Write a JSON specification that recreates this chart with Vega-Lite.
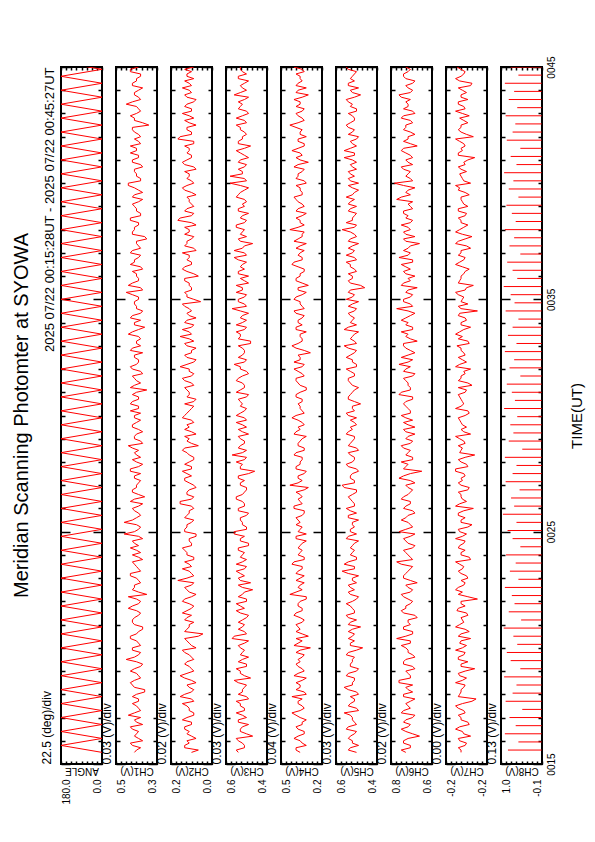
{
"$schema":"https://vega.github.io/schema/vega-lite/v6.json",
"background":"white",
"padding":{"left":12,"top":54,"right":5,"bottom":5},
"title":{"text":"Meridian Scanning Photomter at SYOWA","orient":"left","anchor":"middle","frame":"group","fontSize":20,"font":"Liberation Sans","fontWeight":"normal","color":"#000","offset":7},
"bounds":"flush",
"spacing":14,
"config":{"view":{"stroke":"#000","strokeWidth":2},"axis":{"labelFont":"Liberation Sans","titleFont":"Liberation Sans","labelColor":"#000","titleColor":"#000","tickColor":"#000","tickWidth":1.5,"domain":false,"grid":false,"titleFontWeight":"normal","labelFontSize":10,"titleFontSize":12}},
"datasets":{
"ch":[
{"t":15.5,"c1":0.41,"c2":0.11,"c3":0.54,"c4":0.36,"c5":0.50,"c6":0.735,"c7":-0.196},
{"t":15.7,"c1":0.38,"c2":0.14,"c3":0.51,"c4":0.39,"c5":0.53,"c6":0.715,"c7":-0.194},
{"t":15.9,"c1":0.43,"c2":0.12,"c3":0.52,"c4":0.345,"c5":0.52,"c6":0.745,"c7":-0.2},
{"t":16.1,"c1":0.39,"c2":0.09,"c3":0.55,"c4":0.405,"c5":0.54,"c6":0.725,"c7":-0.194},
{"t":16.3,"c1":0.40,"c2":0.13,"c3":0.50,"c4":0.33,"c5":0.51,"c6":0.705,"c7":-0.198},
{"t":16.5,"c1":0.42,"c2":0.14,"c3":0.53,"c4":0.375,"c5":0.55,"c6":0.755,"c7":-0.192},
{"t":16.7,"c1":0.37,"c2":0.11,"c3":0.49,"c4":0.345,"c5":0.50,"c6":0.715,"c7":-0.202},
{"t":16.9,"c1":0.41,"c2":0.15,"c3":0.54,"c4":0.315,"c5":0.52,"c6":0.735,"c7":-0.196},
{"t":17.1,"c1":0.44,"c2":0.10,"c3":0.52,"c4":0.39,"c5":0.53,"c6":0.695,"c7":-0.194},
{"t":17.3,"c1":0.38,"c2":0.12,"c3":0.51,"c4":0.36,"c5":0.49,"c6":0.745,"c7":-0.198},
{"t":17.5,"c1":0.40,"c2":0.13,"c3":0.53,"c4":0.345,"c5":0.54,"c6":0.725,"c7":-0.192},
{"t":17.7,"c1":0.39,"c2":0.10,"c3":0.55,"c4":0.375,"c5":0.51,"c6":0.715,"c7":-0.204},
{"t":17.9,"c1":0.42,"c2":0.16,"c3":0.50,"c4":0.42,"c5":0.53,"c6":0.745,"c7":-0.194},
{"t":18.1,"c1":0.36,"c2":0.11,"c3":0.52,"c4":0.33,"c5":0.50,"c6":0.705,"c7":-0.196},
{"t":18.3,"c1":0.41,"c2":0.12,"c3":0.51,"c4":0.36,"c5":0.56,"c6":0.735,"c7":-0.198},
{"t":18.5,"c1":0.43,"c2":0.09,"c3":0.54,"c4":0.39,"c5":0.52,"c6":0.765,"c7":-0.192},
{"t":18.7,"c1":0.38,"c2":0.14,"c3":0.48,"c4":0.315,"c5":0.51,"c6":0.715,"c7":-0.2},
{"t":18.9,"c1":0.40,"c2":0.13,"c3":0.53,"c4":0.375,"c5":0.54,"c6":0.725,"c7":-0.194},
{"t":19.1,"c1":0.41,"c2":0.11,"c3":0.55,"c4":0.345,"c5":0.49,"c6":0.695,"c7":-0.206},
{"t":19.3,"c1":0.37,"c2":0.14,"c3":0.50,"c4":0.39,"c5":0.53,"c6":0.745,"c7":-0.196},
{"t":19.5,"c1":0.45,"c2":0.10,"c3":0.52,"c4":0.375,"c5":0.52,"c6":0.735,"c7":-0.194},
{"t":19.7,"c1":0.39,"c2":0.12,"c3":0.53,"c4":0.33,"c5":0.55,"c6":0.705,"c7":-0.198},
{"t":19.9,"c1":0.42,"c2":0.15,"c3":0.51,"c4":0.36,"c5":0.50,"c6":0.725,"c7":-0.192},
{"t":20.1,"c1":0.38,"c2":0.11,"c3":0.54,"c4":0.405,"c5":0.53,"c6":0.755,"c7":-0.2},
{"t":20.3,"c1":0.40,"c2":0.13,"c3":0.49,"c4":0.345,"c5":0.51,"c6":0.715,"c7":-0.196},
{"t":20.5,"c1":0.43,"c2":0.08,"c3":0.56,"c4":0.30,"c5":0.52,"c6":0.735,"c7":-0.194},
{"t":20.7,"c1":0.39,"c2":0.14,"c3":0.51,"c4":0.39,"c5":0.54,"c6":0.705,"c7":-0.202},
{"t":20.9,"c1":0.37,"c2":0.12,"c3":0.52,"c4":0.375,"c5":0.48,"c6":0.745,"c7":-0.192},
{"t":21.1,"c1":0.42,"c2":0.10,"c3":0.54,"c4":0.345,"c5":0.53,"c6":0.725,"c7":-0.198},
{"t":21.3,"c1":0.41,"c2":0.13,"c3":0.50,"c4":0.36,"c5":0.54,"c6":0.685,"c7":-0.196},
{"t":21.5,"c1":0.38,"c2":0.15,"c3":0.53,"c4":0.39,"c5":0.51,"c6":0.745,"c7":-0.2},
{"t":21.7,"c1":0.44,"c2":0.11,"c3":0.51,"c4":0.345,"c5":0.52,"c6":0.735,"c7":-0.194},
{"t":21.9,"c1":0.39,"c2":0.12,"c3":0.55,"c4":0.375,"c5":0.55,"c6":0.715,"c7":-0.196},
{"t":22.1,"c1":0.40,"c2":0.14,"c3":0.50,"c4":0.315,"c5":0.50,"c6":0.725,"c7":-0.208},
{"t":22.3,"c1":0.35,"c2":0.09,"c3":0.52,"c4":0.435,"c5":0.53,"c6":0.755,"c7":-0.194},
{"t":22.5,"c1":0.42,"c2":0.13,"c3":0.47,"c4":0.345,"c5":0.51,"c6":0.705,"c7":-0.192},
{"t":22.7,"c1":0.41,"c2":0.11,"c3":0.54,"c4":0.36,"c5":0.54,"c6":0.735,"c7":-0.198},
{"t":22.9,"c1":0.39,"c2":0.17,"c3":0.53,"c4":0.39,"c5":0.52,"c6":0.715,"c7":-0.196},
{"t":23.1,"c1":0.43,"c2":0.10,"c3":0.51,"c4":0.33,"c5":0.49,"c6":0.745,"c7":-0.2},
{"t":23.3,"c1":0.38,"c2":0.12,"c3":0.55,"c4":0.375,"c5":0.57,"c6":0.725,"c7":-0.194},
{"t":23.5,"c1":0.40,"c2":0.11,"c3":0.50,"c4":0.345,"c5":0.51,"c6":0.705,"c7":-0.198},
{"t":23.7,"c1":0.42,"c2":0.14,"c3":0.52,"c4":0.405,"c5":0.54,"c6":0.775,"c7":-0.192},
{"t":23.9,"c1":0.39,"c2":0.10,"c3":0.53,"c4":0.33,"c5":0.50,"c6":0.715,"c7":-0.202},
{"t":24.1,"c1":0.38,"c2":0.13,"c3":0.51,"c4":0.36,"c5":0.52,"c6":0.735,"c7":-0.196},
{"t":24.3,"c1":0.43,"c2":0.15,"c3":0.54,"c4":0.375,"c5":0.53,"c6":0.705,"c7":-0.194},
{"t":24.5,"c1":0.41,"c2":0.11,"c3":0.49,"c4":0.345,"c5":0.51,"c6":0.725,"c7":-0.198},
{"t":24.7,"c1":0.37,"c2":0.12,"c3":0.53,"c4":0.39,"c5":0.55,"c6":0.745,"c7":-0.192},
{"t":24.9,"c1":0.46,"c2":0.09,"c3":0.56,"c4":0.315,"c5":0.50,"c6":0.695,"c7":-0.2},
{"t":25.1,"c1":0.39,"c2":0.14,"c3":0.50,"c4":0.36,"c5":0.53,"c6":0.735,"c7":-0.194},
{"t":25.3,"c1":0.40,"c2":0.13,"c3":0.52,"c4":0.39,"c5":0.52,"c6":0.715,"c7":-0.204},
{"t":25.5,"c1":0.42,"c2":0.10,"c3":0.53,"c4":0.375,"c5":0.49,"c6":0.755,"c7":-0.196},
{"t":25.7,"c1":0.38,"c2":0.13,"c3":0.50,"c4":0.345,"c5":0.54,"c6":0.725,"c7":-0.194},
{"t":25.9,"c1":0.41,"c2":0.12,"c3":0.54,"c4":0.33,"c5":0.53,"c6":0.705,"c7":-0.198},
{"t":26.1,"c1":0.39,"c2":0.11,"c3":0.51,"c4":0.405,"c5":0.51,"c6":0.735,"c7":-0.192},
{"t":26.3,"c1":0.43,"c2":0.16,"c3":0.52,"c4":0.36,"c5":0.52,"c6":0.715,"c7":-0.2},
{"t":26.5,"c1":0.36,"c2":0.10,"c3":0.55,"c4":0.345,"c5":0.54,"c6":0.745,"c7":-0.196},
{"t":26.7,"c1":0.42,"c2":0.13,"c3":0.51,"c4":0.39,"c5":0.50,"c6":0.715,"c7":-0.194},
{"t":26.9,"c1":0.40,"c2":0.09,"c3":0.50,"c4":0.30,"c5":0.56,"c6":0.725,"c7":-0.202},
{"t":27.1,"c1":0.39,"c2":0.12,"c3":0.53,"c4":0.375,"c5":0.51,"c6":0.695,"c7":-0.194},
{"t":27.3,"c1":0.41,"c2":0.14,"c3":0.54,"c4":0.375,"c5":0.53,"c6":0.765,"c7":-0.196},
{"t":27.5,"c1":0.38,"c2":0.13,"c3":0.49,"c4":0.33,"c5":0.52,"c6":0.715,"c7":-0.198},
{"t":27.7,"c1":0.43,"c2":0.11,"c3":0.53,"c4":0.39,"c5":0.50,"c6":0.745,"c7":-0.192},
{"t":27.9,"c1":0.37,"c2":0.14,"c3":0.52,"c4":0.36,"c5":0.55,"c6":0.725,"c7":-0.2},
{"t":28.1,"c1":0.42,"c2":0.10,"c3":0.51,"c4":0.345,"c5":0.51,"c6":0.705,"c7":-0.194},
{"t":28.3,"c1":0.40,"c2":0.12,"c3":0.57,"c4":0.405,"c5":0.53,"c6":0.735,"c7":-0.206},
{"t":28.5,"c1":0.39,"c2":0.15,"c3":0.50,"c4":0.33,"c5":0.49,"c6":0.715,"c7":-0.196},
{"t":28.7,"c1":0.44,"c2":0.08,"c3":0.53,"c4":0.375,"c5":0.54,"c6":0.755,"c7":-0.194},
{"t":28.9,"c1":0.38,"c2":0.13,"c3":0.51,"c4":0.36,"c5":0.52,"c6":0.705,"c7":-0.198},
{"t":29.1,"c1":0.41,"c2":0.14,"c3":0.54,"c4":0.315,"c5":0.51,"c6":0.725,"c7":-0.192},
{"t":29.3,"c1":0.37,"c2":0.11,"c3":0.52,"c4":0.39,"c5":0.54,"c6":0.735,"c7":-0.198},
{"t":29.5,"c1":0.42,"c2":0.12,"c3":0.50,"c4":0.375,"c5":0.53,"c6":0.695,"c7":-0.2},
{"t":29.7,"c1":0.40,"c2":0.10,"c3":0.55,"c4":0.345,"c5":0.51,"c6":0.745,"c7":-0.196},
{"t":29.9,"c1":0.41,"c2":0.15,"c3":0.51,"c4":0.42,"c5":0.50,"c6":0.735,"c7":-0.194},
{"t":30.1,"c1":0.38,"c2":0.13,"c3":0.53,"c4":0.33,"c5":0.55,"c6":0.715,"c7":-0.202},
{"t":30.3,"c1":0.39,"c2":0.11,"c3":0.50,"c4":0.36,"c5":0.52,"c6":0.725,"c7":-0.192},
{"t":30.5,"c1":0.43,"c2":0.14,"c3":0.52,"c4":0.375,"c5":0.48,"c6":0.745,"c7":-0.198},
{"t":30.7,"c1":0.39,"c2":0.09,"c3":0.54,"c4":0.345,"c5":0.54,"c6":0.705,"c7":-0.196},
{"t":30.9,"c1":0.42,"c2":0.12,"c3":0.49,"c4":0.39,"c5":0.53,"c6":0.765,"c7":-0.194},
{"t":31.1,"c1":0.35,"c2":0.13,"c3":0.53,"c4":0.315,"c5":0.51,"c6":0.715,"c7":-0.2},
{"t":31.3,"c1":0.41,"c2":0.10,"c3":0.51,"c4":0.36,"c5":0.52,"c6":0.725,"c7":-0.204},
{"t":31.5,"c1":0.40,"c2":0.14,"c3":0.55,"c4":0.39,"c5":0.54,"c6":0.735,"c7":-0.194},
{"t":31.7,"c1":0.42,"c2":0.11,"c3":0.52,"c4":0.33,"c5":0.51,"c6":0.705,"c7":-0.196},
{"t":31.9,"c1":0.38,"c2":0.12,"c3":0.50,"c4":0.375,"c5":0.53,"c6":0.745,"c7":-0.198},
{"t":32.1,"c1":0.43,"c2":0.16,"c3":0.53,"c4":0.345,"c5":0.50,"c6":0.715,"c7":-0.192},
{"t":32.3,"c1":0.39,"c2":0.10,"c3":0.51,"c4":0.405,"c5":0.52,"c6":0.725,"c7":-0.2},
{"t":32.5,"c1":0.41,"c2":0.13,"c3":0.54,"c4":0.36,"c5":0.55,"c6":0.755,"c7":-0.194},
{"t":32.7,"c1":0.37,"c2":0.11,"c3":0.51,"c4":0.285,"c5":0.51,"c6":0.695,"c7":-0.198},
{"t":32.9,"c1":0.42,"c2":0.09,"c3":0.52,"c4":0.39,"c5":0.54,"c6":0.735,"c7":-0.196},
{"t":33.1,"c1":0.40,"c2":0.14,"c3":0.48,"c4":0.375,"c5":0.50,"c6":0.745,"c7":-0.202},
{"t":33.3,"c1":0.38,"c2":0.12,"c3":0.54,"c4":0.345,"c5":0.53,"c6":0.715,"c7":-0.194},
{"t":33.5,"c1":0.44,"c2":0.11,"c3":0.53,"c4":0.36,"c5":0.51,"c6":0.725,"c7":-0.192},
{"t":33.7,"c1":0.39,"c2":0.15,"c3":0.51,"c4":0.39,"c5":0.56,"c6":0.705,"c7":-0.198},
{"t":33.9,"c1":0.41,"c2":0.10,"c3":0.55,"c4":0.345,"c5":0.50,"c6":0.735,"c7":-0.196},
{"t":34.1,"c1":0.38,"c2":0.13,"c3":0.50,"c4":0.375,"c5":0.52,"c6":0.755,"c7":-0.2},
{"t":34.3,"c1":0.42,"c2":0.12,"c3":0.52,"c4":0.33,"c5":0.53,"c6":0.715,"c7":-0.194},
{"t":34.5,"c1":0.37,"c2":0.11,"c3":0.53,"c4":0.405,"c5":0.51,"c6":0.725,"c7":-0.208},
{"t":34.7,"c1":0.40,"c2":0.14,"c3":0.50,"c4":0.345,"c5":0.54,"c6":0.705,"c7":-0.194},
{"t":34.9,"c1":0.41,"c2":0.07,"c3":0.54,"c4":0.36,"c5":0.49,"c6":0.745,"c7":-0.196},
{"t":35.1,"c1":0.39,"c2":0.13,"c3":0.51,"c4":0.39,"c5":0.52,"c6":0.715,"c7":-0.198},
{"t":35.3,"c1":0.45,"c2":0.14,"c3":0.55,"c4":0.315,"c5":0.54,"c6":0.735,"c7":-0.192},
{"t":35.5,"c1":0.38,"c2":0.11,"c3":0.52,"c4":0.375,"c5":0.46,"c6":0.685,"c7":-0.2},
{"t":35.7,"c1":0.42,"c2":0.12,"c3":0.49,"c4":0.345,"c5":0.53,"c6":0.745,"c7":-0.194},
{"t":35.9,"c1":0.39,"c2":0.14,"c3":0.53,"c4":0.39,"c5":0.52,"c6":0.725,"c7":-0.196},
{"t":36.1,"c1":0.40,"c2":0.10,"c3":0.54,"c4":0.36,"c5":0.54,"c6":0.735,"c7":-0.198},
{"t":36.3,"c1":0.37,"c2":0.15,"c3":0.51,"c4":0.33,"c5":0.51,"c6":0.715,"c7":-0.202},
{"t":36.5,"c1":0.43,"c2":0.11,"c3":0.52,"c4":0.42,"c5":0.53,"c6":0.755,"c7":-0.192},
{"t":36.7,"c1":0.41,"c2":0.13,"c3":0.54,"c4":0.345,"c5":0.50,"c6":0.705,"c7":-0.198},
{"t":36.9,"c1":0.38,"c2":0.12,"c3":0.50,"c4":0.375,"c5":0.55,"c6":0.725,"c7":-0.194},
{"t":37.1,"c1":0.42,"c2":0.09,"c3":0.56,"c4":0.33,"c5":0.51,"c6":0.745,"c7":-0.196},
{"t":37.3,"c1":0.39,"c2":0.14,"c3":0.51,"c4":0.36,"c5":0.52,"c6":0.715,"c7":-0.2},
{"t":37.5,"c1":0.40,"c2":0.13,"c3":0.53,"c4":0.405,"c5":0.54,"c6":0.735,"c7":-0.194},
{"t":37.7,"c1":0.36,"c2":0.10,"c3":0.50,"c4":0.345,"c5":0.50,"c6":0.695,"c7":-0.204},
{"t":37.9,"c1":0.42,"c2":0.12,"c3":0.52,"c4":0.33,"c5":0.53,"c6":0.745,"c7":-0.192},
{"t":38.1,"c1":0.41,"c2":0.14,"c3":0.55,"c4":0.375,"c5":0.51,"c6":0.725,"c7":-0.198},
{"t":38.3,"c1":0.39,"c2":0.11,"c3":0.51,"c4":0.36,"c5":0.55,"c6":0.715,"c7":-0.196},
{"t":38.5,"c1":0.43,"c2":0.16,"c3":0.53,"c4":0.39,"c5":0.52,"c6":0.735,"c7":-0.194},
{"t":38.7,"c1":0.38,"c2":0.10,"c3":0.49,"c4":0.315,"c5":0.50,"c6":0.745,"c7":-0.2},
{"t":38.9,"c1":0.40,"c2":0.13,"c3":0.54,"c4":0.375,"c5":0.53,"c6":0.705,"c7":-0.194},
{"t":39.1,"c1":0.42,"c2":0.11,"c3":0.52,"c4":0.345,"c5":0.54,"c6":0.725,"c7":-0.198},
{"t":39.3,"c1":0.37,"c2":0.12,"c3":0.51,"c4":0.39,"c5":0.51,"c6":0.775,"c7":-0.196},
{"t":39.5,"c1":0.41,"c2":0.09,"c3":0.54,"c4":0.345,"c5":0.52,"c6":0.715,"c7":-0.202},
{"t":39.7,"c1":0.39,"c2":0.14,"c3":0.51,"c4":0.36,"c5":0.49,"c6":0.725,"c7":-0.194},
{"t":39.9,"c1":0.44,"c2":0.13,"c3":0.53,"c4":0.39,"c5":0.54,"c6":0.745,"c7":-0.192},
{"t":40.1,"c1":0.38,"c2":0.11,"c3":0.50,"c4":0.33,"c5":0.53,"c6":0.705,"c7":-0.198},
{"t":40.3,"c1":0.40,"c2":0.12,"c3":0.58,"c4":0.375,"c5":0.51,"c6":0.735,"c7":-0.196},
{"t":40.5,"c1":0.41,"c2":0.14,"c3":0.52,"c4":0.345,"c5":0.54,"c6":0.715,"c7":-0.2},
{"t":40.7,"c1":0.37,"c2":0.10,"c3":0.51,"c4":0.405,"c5":0.52,"c6":0.755,"c7":-0.194},
{"t":40.9,"c1":0.42,"c2":0.15,"c3":0.54,"c4":0.30,"c5":0.50,"c6":0.725,"c7":-0.198},
{"t":41.1,"c1":0.39,"c2":0.11,"c3":0.49,"c4":0.39,"c5":0.56,"c6":0.705,"c7":-0.206},
{"t":41.3,"c1":0.43,"c2":0.13,"c3":0.53,"c4":0.36,"c5":0.51,"c6":0.735,"c7":-0.194},
{"t":41.5,"c1":0.40,"c2":0.12,"c3":0.51,"c4":0.375,"c5":0.53,"c6":0.745,"c7":-0.196},
{"t":41.7,"c1":0.38,"c2":0.10,"c3":0.54,"c4":0.33,"c5":0.52,"c6":0.715,"c7":-0.198},
{"t":41.9,"c1":0.41,"c2":0.17,"c3":0.52,"c4":0.375,"c5":0.50,"c6":0.725,"c7":-0.192},
{"t":42.1,"c1":0.39,"c2":0.11,"c3":0.50,"c4":0.36,"c5":0.54,"c6":0.695,"c7":-0.2},
{"t":42.3,"c1":0.42,"c2":0.13,"c3":0.53,"c4":0.345,"c5":0.51,"c6":0.745,"c7":-0.194},
{"t":42.5,"c1":0.34,"c2":0.09,"c3":0.55,"c4":0.435,"c5":0.55,"c6":0.735,"c7":-0.196},
{"t":42.7,"c1":0.41,"c2":0.14,"c3":0.51,"c4":0.33,"c5":0.51,"c6":0.715,"c7":-0.198},
{"t":42.9,"c1":0.43,"c2":0.12,"c3":0.52,"c4":0.375,"c5":0.52,"c6":0.745,"c7":-0.202},
{"t":43.1,"c1":0.38,"c2":0.11,"c3":0.50,"c4":0.345,"c5":0.50,"c6":0.705,"c7":-0.192},
{"t":43.3,"c1":0.40,"c2":0.14,"c3":0.53,"c4":0.39,"c5":0.53,"c6":0.725,"c7":-0.198},
{"t":43.5,"c1":0.42,"c2":0.10,"c3":0.54,"c4":0.36,"c5":0.54,"c6":0.735,"c7":-0.194},
{"t":43.7,"c1":0.39,"c2":0.13,"c3":0.49,"c4":0.345,"c5":0.51,"c6":0.755,"c7":-0.196},
{"t":43.9,"c1":0.41,"c2":0.11,"c3":0.53,"c4":0.39,"c5":0.52,"c6":0.715,"c7":-0.2},
{"t":44.1,"c1":0.37,"c2":0.15,"c3":0.52,"c4":0.315,"c5":0.49,"c6":0.725,"c7":-0.194},
{"t":44.3,"c1":0.42,"c2":0.12,"c3":0.51,"c4":0.375,"c5":0.54,"c6":0.705,"c7":-0.204},
{"t":44.5,"c1":0.40,"c2":0.10,"c3":0.54,"c4":0.36,"c5":0.53,"c6":0.735,"c7":-0.192},
{"t":44.7,"c1":0.38,"c2":0.13,"c3":0.50,"c4":0.39,"c5":0.51,"c6":0.745,"c7":-0.198},
{"t":44.9,"c1":0.43,"c2":0.14,"c3":0.53,"c4":0.345,"c5":0.54,"c6":0.715,"c7":-0.196},
{"t":45.1,"c1":0.39,"c2":0.11,"c3":0.55,"c4":0.33,"c5":0.52,"c6":0.695,"c7":-0.194},
{"t":45.3,"c1":0.41,"c2":0.12,"c3":0.51,"c4":0.375,"c5":0.50,"c6":0.735,"c7":-0.2},
{"t":15.6,"c1":0.40,"c2":0.08,"c3":0.55,"c4":0.39,"c5":0.54,"c6":0.755,"c7":-0.196},
{"t":15.8,"c1":0.42,"c2":0.14,"c3":0.51,"c4":0.315,"c5":0.49,"c6":0.715,"c7":-0.199},
{"t":16.0,"c1":0.37,"c2":0.13,"c3":0.54,"c4":0.36,"c5":0.52,"c6":0.745,"c7":-0.195},
{"t":16.2,"c1":0.41,"c2":0.11,"c3":0.47,"c4":0.375,"c5":0.53,"c6":0.675,"c7":-0.203},
{"t":16.4,"c1":0.39,"c2":0.12,"c3":0.53,"c4":0.33,"c5":0.50,"c6":0.735,"c7":-0.197},
{"t":16.6,"c1":0.43,"c2":0.14,"c3":0.52,"c4":0.39,"c5":0.54,"c6":0.725,"c7":-0.195},
{"t":16.8,"c1":0.40,"c2":0.11,"c3":0.54,"c4":0.345,"c5":0.51,"c6":0.745,"c7":-0.201},
{"t":17.0,"c1":0.38,"c2":0.13,"c3":0.50,"c4":0.36,"c5":0.52,"c6":0.705,"c7":-0.196},
{"t":17.2,"c1":0.41,"c2":0.10,"c3":0.55,"c4":0.42,"c5":0.56,"c6":0.755,"c7":-0.199},
{"t":17.4,"c1":0.39,"c2":0.12,"c3":0.51,"c4":0.33,"c5":0.50,"c6":0.715,"c7":-0.194},
{"t":17.6,"c1":0.42,"c2":0.15,"c3":0.53,"c4":0.375,"c5":0.53,"c6":0.735,"c7":-0.197},
{"t":17.8,"c1":0.39,"c2":0.11,"c3":0.49,"c4":0.345,"c5":0.51,"c6":0.695,"c7":-0.207},
{"t":18.0,"c1":0.40,"c2":0.14,"c3":0.54,"c4":0.315,"c5":0.49,"c6":0.745,"c7":-0.195},
{"t":18.2,"c1":0.36,"c2":0.10,"c3":0.52,"c4":0.39,"c5":0.54,"c6":0.725,"c7":-0.196},
{"t":18.4,"c1":0.42,"c2":0.13,"c3":0.50,"c4":0.36,"c5":0.52,"c6":0.705,"c7":-0.199},
{"t":18.6,"c1":0.41,"c2":0.11,"c3":0.56,"c4":0.345,"c5":0.51,"c6":0.765,"c7":-0.197},
{"t":18.8,"c1":0.39,"c2":0.16,"c3":0.51,"c4":0.405,"c5":0.55,"c6":0.715,"c7":-0.195},
{"t":19.0,"c1":0.43,"c2":0.10,"c3":0.53,"c4":0.33,"c5":0.50,"c6":0.735,"c7":-0.199},
{"t":19.2,"c1":0.38,"c2":0.12,"c3":0.50,"c4":0.375,"c5":0.53,"c6":0.705,"c7":-0.196},
{"t":19.4,"c1":0.40,"c2":0.13,"c3":0.54,"c4":0.36,"c5":0.52,"c6":0.745,"c7":-0.201},
{"t":19.6,"c1":0.41,"c2":0.11,"c3":0.49,"c4":0.345,"c5":0.51,"c6":0.695,"c7":-0.194},
{"t":19.8,"c1":0.38,"c2":0.14,"c3":0.52,"c4":0.39,"c5":0.54,"c6":0.725,"c7":-0.199},
{"t":20.0,"c1":0.42,"c2":0.09,"c3":0.53,"c4":0.285,"c5":0.47,"c6":0.735,"c7":-0.197},
{"t":20.2,"c1":0.39,"c2":0.12,"c3":0.51,"c4":0.375,"c5":0.53,"c6":0.715,"c7":-0.195},
{"t":20.4,"c1":0.43,"c2":0.14,"c3":0.57,"c4":0.39,"c5":0.54,"c6":0.775,"c7":-0.203},
{"t":20.6,"c1":0.40,"c2":0.06,"c3":0.50,"c4":0.345,"c5":0.51,"c6":0.705,"c7":-0.196},
{"t":20.8,"c1":0.37,"c2":0.13,"c3":0.54,"c4":0.36,"c5":0.52,"c6":0.745,"c7":-0.199},
{"t":21.0,"c1":0.41,"c2":0.12,"c3":0.51,"c4":0.39,"c5":0.54,"c6":0.715,"c7":-0.195},
{"t":21.2,"c1":0.42,"c2":0.14,"c3":0.52,"c4":0.33,"c5":0.50,"c6":0.725,"c7":-0.197},
{"t":21.4,"c1":0.39,"c2":0.11,"c3":0.49,"c4":0.405,"c5":0.55,"c6":0.695,"c7":-0.201},
{"t":21.6,"c1":0.40,"c2":0.13,"c3":0.55,"c4":0.345,"c5":0.51,"c6":0.755,"c7":-0.193},
{"t":21.8,"c1":0.42,"c2":0.10,"c3":0.53,"c4":0.375,"c5":0.53,"c6":0.735,"c7":-0.199},
{"t":22.0,"c1":0.38,"c2":0.15,"c3":0.50,"c4":0.36,"c5":0.52,"c6":0.705,"c7":-0.196},
{"t":22.2,"c1":0.44,"c2":0.11,"c3":0.54,"c4":0.315,"c5":0.49,"c6":0.745,"c7":-0.201},
{"t":22.4,"c1":0.39,"c2":0.12,"c3":0.51,"c4":0.39,"c5":0.54,"c6":0.715,"c7":-0.197},
{"t":22.6,"c1":0.41,"c2":0.14,"c3":0.52,"c4":0.375,"c5":0.53,"c6":0.725,"c7":-0.194},
{"t":22.8,"c1":0.38,"c2":0.10,"c3":0.48,"c4":0.33,"c5":0.50,"c6":0.685,"c7":-0.199},
{"t":23.0,"c1":0.40,"c2":0.13,"c3":0.54,"c4":0.36,"c5":0.52,"c6":0.745,"c7":-0.201},
{"t":23.2,"c1":0.43,"c2":0.11,"c3":0.53,"c4":0.39,"c5":0.54,"c6":0.735,"c7":-0.196},
{"t":23.4,"c1":0.39,"c2":0.15,"c3":0.51,"c4":0.345,"c5":0.51,"c6":0.715,"c7":-0.197},
{"t":23.6,"c1":0.41,"c2":0.12,"c3":0.55,"c4":0.42,"c5":0.56,"c6":0.755,"c7":-0.195},
{"t":23.8,"c1":0.37,"c2":0.10,"c3":0.50,"c4":0.33,"c5":0.50,"c6":0.705,"c7":-0.203},
{"t":24.0,"c1":0.42,"c2":0.13,"c3":0.52,"c4":0.375,"c5":0.53,"c6":0.725,"c7":-0.196},
{"t":24.2,"c1":0.40,"c2":0.14,"c3":0.54,"c4":0.345,"c5":0.51,"c6":0.745,"c7":-0.199},
{"t":24.4,"c1":0.39,"c2":0.11,"c3":0.49,"c4":0.36,"c5":0.52,"c6":0.695,"c7":-0.195},
{"t":24.6,"c1":0.42,"c2":0.12,"c3":0.53,"c4":0.315,"c5":0.49,"c6":0.735,"c7":-0.199},
{"t":24.8,"c1":0.39,"c2":0.09,"c3":0.51,"c4":0.39,"c5":0.54,"c6":0.715,"c7":-0.197},
{"t":25.0,"c1":0.41,"c2":0.14,"c3":0.56,"c4":0.375,"c5":0.53,"c6":0.765,"c7":-0.195},
{"t":25.2,"c1":0.38,"c2":0.13,"c3":0.50,"c4":0.345,"c5":0.51,"c6":0.705,"c7":-0.201},
{"t":25.4,"c1":0.46,"c2":0.11,"c3":0.52,"c4":0.36,"c5":0.52,"c6":0.725,"c7":-0.196},
{"t":25.6,"c1":0.40,"c2":0.14,"c3":0.53,"c4":0.39,"c5":0.54,"c6":0.735,"c7":-0.199},
{"t":25.8,"c1":0.39,"c2":0.12,"c3":0.49,"c4":0.33,"c5":0.50,"c6":0.695,"c7":-0.194},
{"t":26.0,"c1":0.42,"c2":0.10,"c3":0.54,"c4":0.405,"c5":0.55,"c6":0.745,"c7":-0.205},
{"t":26.2,"c1":0.37,"c2":0.16,"c3":0.51,"c4":0.345,"c5":0.51,"c6":0.715,"c7":-0.195},
{"t":26.4,"c1":0.41,"c2":0.11,"c3":0.55,"c4":0.375,"c5":0.53,"c6":0.755,"c7":-0.197},
{"t":26.6,"c1":0.39,"c2":0.13,"c3":0.52,"c4":0.36,"c5":0.52,"c6":0.725,"c7":-0.196},
{"t":26.8,"c1":0.42,"c2":0.12,"c3":0.50,"c4":0.33,"c5":0.50,"c6":0.705,"c7":-0.201},
{"t":27.0,"c1":0.40,"c2":0.10,"c3":0.53,"c4":0.435,"c5":0.57,"c6":0.735,"c7":-0.196},
{"t":27.2,"c1":0.38,"c2":0.14,"c3":0.51,"c4":0.345,"c5":0.51,"c6":0.715,"c7":-0.197},
{"t":27.4,"c1":0.41,"c2":0.11,"c3":0.54,"c4":0.375,"c5":0.53,"c6":0.745,"c7":-0.199},
{"t":27.6,"c1":0.43,"c2":0.15,"c3":0.46,"c4":0.315,"c5":0.49,"c6":0.665,"c7":-0.192},
{"t":27.8,"c1":0.39,"c2":0.11,"c3":0.53,"c4":0.39,"c5":0.54,"c6":0.735,"c7":-0.201},
{"t":28.0,"c1":0.40,"c2":0.12,"c3":0.55,"c4":0.36,"c5":0.52,"c6":0.755,"c7":-0.196},
{"t":28.2,"c1":0.38,"c2":0.10,"c3":0.50,"c4":0.345,"c5":0.51,"c6":0.705,"c7":-0.199},
{"t":28.4,"c1":0.41,"c2":0.13,"c3":0.52,"c4":0.39,"c5":0.54,"c6":0.725,"c7":-0.195},
{"t":28.6,"c1":0.42,"c2":0.14,"c3":0.54,"c4":0.33,"c5":0.50,"c6":0.745,"c7":-0.197},
{"t":28.8,"c1":0.37,"c2":0.11,"c3":0.51,"c4":0.375,"c5":0.53,"c6":0.715,"c7":-0.199},
{"t":29.0,"c1":0.41,"c2":0.12,"c3":0.53,"c4":0.345,"c5":0.51,"c6":0.735,"c7":-0.195},
{"t":29.2,"c1":0.40,"c2":0.09,"c3":0.49,"c4":0.405,"c5":0.55,"c6":0.695,"c7":-0.203},
{"t":29.4,"c1":0.39,"c2":0.14,"c3":0.54,"c4":0.36,"c5":0.52,"c6":0.745,"c7":-0.196},
{"t":29.6,"c1":0.42,"c2":0.13,"c3":0.52,"c4":0.33,"c5":0.50,"c6":0.725,"c7":-0.197},
{"t":29.8,"c1":0.38,"c2":0.11,"c3":0.50,"c4":0.375,"c5":0.53,"c6":0.705,"c7":-0.195},
{"t":30.0,"c1":0.41,"c2":0.14,"c3":0.55,"c4":0.39,"c5":0.54,"c6":0.755,"c7":-0.199},
{"t":30.2,"c1":0.43,"c2":0.12,"c3":0.51,"c4":0.345,"c5":0.51,"c6":0.715,"c7":-0.201},
{"t":30.4,"c1":0.39,"c2":0.10,"c3":0.53,"c4":0.36,"c5":0.52,"c6":0.735,"c7":-0.196},
{"t":30.6,"c1":0.42,"c2":0.10,"c3":0.53,"c4":0.345,"c5":0.51,"c6":0.735,"c7":-0.197},
{"t":30.8,"c1":0.39,"c2":0.13,"c3":0.50,"c4":0.39,"c5":0.54,"c6":0.705,"c7":-0.195},
{"t":31.0,"c1":0.40,"c2":0.12,"c3":0.55,"c4":0.36,"c5":0.52,"c6":0.755,"c7":-0.199},
{"t":31.2,"c1":0.43,"c2":0.14,"c3":0.51,"c4":0.315,"c5":0.49,"c6":0.715,"c7":-0.194},
{"t":31.4,"c1":0.38,"c2":0.11,"c3":0.52,"c4":0.375,"c5":0.53,"c6":0.725,"c7":-0.201},
{"t":31.6,"c1":0.41,"c2":0.15,"c3":0.54,"c4":0.39,"c5":0.54,"c6":0.745,"c7":-0.196},
{"t":31.8,"c1":0.37,"c2":0.10,"c3":0.49,"c4":0.345,"c5":0.51,"c6":0.695,"c7":-0.199},
{"t":32.0,"c1":0.42,"c2":0.12,"c3":0.53,"c4":0.405,"c5":0.55,"c6":0.735,"c7":-0.203},
{"t":32.2,"c1":0.40,"c2":0.13,"c3":0.56,"c4":0.33,"c5":0.50,"c6":0.765,"c7":-0.195},
{"t":32.4,"c1":0.39,"c2":0.09,"c3":0.50,"c4":0.36,"c5":0.52,"c6":0.705,"c7":-0.197},
{"t":32.6,"c1":0.41,"c2":0.14,"c3":0.52,"c4":0.375,"c5":0.53,"c6":0.725,"c7":-0.199},
{"t":32.8,"c1":0.43,"c2":0.11,"c3":0.51,"c4":0.33,"c5":0.50,"c6":0.715,"c7":-0.196},
{"t":33.0,"c1":0.38,"c2":0.13,"c3":0.54,"c4":0.42,"c5":0.56,"c6":0.745,"c7":-0.193},
{"t":33.2,"c1":0.40,"c2":0.10,"c3":0.48,"c4":0.345,"c5":0.51,"c6":0.685,"c7":-0.201},
{"t":33.4,"c1":0.39,"c2":0.16,"c3":0.53,"c4":0.36,"c5":0.52,"c6":0.735,"c7":-0.197},
{"t":33.6,"c1":0.42,"c2":0.12,"c3":0.55,"c4":0.315,"c5":0.49,"c6":0.755,"c7":-0.195},
{"t":33.8,"c1":0.36,"c2":0.11,"c3":0.50,"c4":0.39,"c5":0.54,"c6":0.705,"c7":-0.203},
{"t":34.0,"c1":0.41,"c2":0.14,"c3":0.52,"c4":0.375,"c5":0.53,"c6":0.725,"c7":-0.196},
{"t":34.2,"c1":0.43,"c2":0.09,"c3":0.53,"c4":0.345,"c5":0.51,"c6":0.735,"c7":-0.199},
{"t":34.4,"c1":0.38,"c2":0.13,"c3":0.49,"c4":0.39,"c5":0.54,"c6":0.695,"c7":-0.195},
{"t":34.6,"c1":0.40,"c2":0.12,"c3":0.57,"c4":0.33,"c5":0.50,"c6":0.775,"c7":-0.196},
{"t":34.8,"c1":0.41,"c2":0.15,"c3":0.51,"c4":0.36,"c5":0.52,"c6":0.715,"c7":-0.201},
{"t":35.0,"c1":0.39,"c2":0.10,"c3":0.54,"c4":0.405,"c5":0.55,"c6":0.745,"c7":-0.197},
{"t":35.2,"c1":0.42,"c2":0.13,"c3":0.50,"c4":0.345,"c5":0.51,"c6":0.705,"c7":-0.194},
{"t":35.4,"c1":0.37,"c2":0.11,"c3":0.52,"c4":0.375,"c5":0.53,"c6":0.725,"c7":-0.199},
{"t":35.6,"c1":0.44,"c2":0.12,"c3":0.55,"c4":0.30,"c5":0.48,"c6":0.755,"c7":-0.205},
{"t":35.8,"c1":0.39,"c2":0.14,"c3":0.51,"c4":0.39,"c5":0.54,"c6":0.715,"c7":-0.195},
{"t":36.0,"c1":0.40,"c2":0.08,"c3":0.49,"c4":0.36,"c5":0.52,"c6":0.695,"c7":-0.196},
{"t":36.2,"c1":0.42,"c2":0.13,"c3":0.54,"c4":0.33,"c5":0.50,"c6":0.745,"c7":-0.199},
{"t":36.4,"c1":0.38,"c2":0.14,"c3":0.53,"c4":0.375,"c5":0.53,"c6":0.735,"c7":-0.197},
{"t":36.6,"c1":0.41,"c2":0.11,"c3":0.50,"c4":0.405,"c5":0.55,"c6":0.705,"c7":-0.195},
{"t":36.8,"c1":0.39,"c2":0.12,"c3":0.56,"c4":0.345,"c5":0.51,"c6":0.765,"c7":-0.199},
{"t":37.0,"c1":0.43,"c2":0.15,"c3":0.51,"c4":0.36,"c5":0.52,"c6":0.715,"c7":-0.196},
{"t":37.2,"c1":0.38,"c2":0.10,"c3":0.52,"c4":0.39,"c5":0.54,"c6":0.725,"c7":-0.203},
{"t":37.4,"c1":0.40,"c2":0.13,"c3":0.47,"c4":0.315,"c5":0.49,"c6":0.675,"c7":-0.192},
{"t":37.6,"c1":0.35,"c2":0.11,"c3":0.54,"c4":0.375,"c5":0.53,"c6":0.745,"c7":-0.199},
{"t":37.8,"c1":0.42,"c2":0.14,"c3":0.53,"c4":0.345,"c5":0.51,"c6":0.735,"c7":-0.197},
{"t":38.0,"c1":0.41,"c2":0.12,"c3":0.51,"c4":0.435,"c5":0.57,"c6":0.715,"c7":-0.195},
{"t":38.2,"c1":0.39,"c2":0.09,"c3":0.55,"c4":0.33,"c5":0.50,"c6":0.755,"c7":-0.201},
{"t":38.4,"c1":0.43,"c2":0.17,"c3":0.50,"c4":0.36,"c5":0.52,"c6":0.705,"c7":-0.196},
{"t":38.6,"c1":0.38,"c2":0.11,"c3":0.52,"c4":0.345,"c5":0.51,"c6":0.725,"c7":-0.199},
{"t":38.8,"c1":0.40,"c2":0.14,"c3":0.54,"c4":0.39,"c5":0.54,"c6":0.745,"c7":-0.194},
{"t":39.0,"c1":0.41,"c2":0.10,"c3":0.51,"c4":0.33,"c5":0.50,"c6":0.715,"c7":-0.201},
{"t":39.2,"c1":0.39,"c2":0.12,"c3":0.50,"c4":0.375,"c5":0.53,"c6":0.705,"c7":-0.197},
{"t":39.4,"c1":0.42,"c2":0.13,"c3":0.55,"c4":0.405,"c5":0.55,"c6":0.755,"c7":-0.196},
{"t":39.6,"c1":0.37,"c2":0.11,"c3":0.53,"c4":0.345,"c5":0.51,"c6":0.735,"c7":-0.199},
{"t":39.8,"c1":0.41,"c2":0.15,"c3":0.49,"c4":0.36,"c5":0.52,"c6":0.695,"c7":-0.195},
{"t":40.0,"c1":0.44,"c2":0.10,"c3":0.58,"c4":0.315,"c5":0.49,"c6":0.785,"c7":-0.203},
{"t":40.2,"c1":0.38,"c2":0.13,"c3":0.51,"c4":0.39,"c5":0.54,"c6":0.715,"c7":-0.197},
{"t":40.4,"c1":0.40,"c2":0.12,"c3":0.52,"c4":0.375,"c5":0.53,"c6":0.725,"c7":-0.195},
{"t":40.6,"c1":0.41,"c2":0.09,"c3":0.54,"c4":0.33,"c5":0.50,"c6":0.745,"c7":-0.196},
{"t":40.8,"c1":0.38,"c2":0.14,"c3":0.50,"c4":0.375,"c5":0.53,"c6":0.705,"c7":-0.199},
{"t":41.0,"c1":0.42,"c2":0.13,"c3":0.53,"c4":0.36,"c5":0.52,"c6":0.735,"c7":-0.201},
{"t":41.2,"c1":0.39,"c2":0.11,"c3":0.51,"c4":0.345,"c5":0.51,"c6":0.715,"c7":-0.194},
{"t":41.4,"c1":0.40,"c2":0.12,"c3":0.55,"c4":0.42,"c5":0.56,"c6":0.755,"c7":-0.197},
{"t":41.6,"c1":0.43,"c2":0.14,"c3":0.48,"c4":0.33,"c5":0.50,"c6":0.685,"c7":-0.199},
{"t":41.8,"c1":0.39,"c2":0.10,"c3":0.54,"c4":0.375,"c5":0.53,"c6":0.745,"c7":-0.195},
{"t":42.0,"c1":0.38,"c2":0.16,"c3":0.52,"c4":0.315,"c5":0.49,"c6":0.725,"c7":-0.205},
{"t":42.2,"c1":0.41,"c2":0.11,"c3":0.51,"c4":0.36,"c5":0.52,"c6":0.715,"c7":-0.196},
{"t":42.4,"c1":0.42,"c2":0.13,"c3":0.53,"c4":0.39,"c5":0.54,"c6":0.735,"c7":-0.196},
{"t":42.6,"c1":0.37,"c2":0.12,"c3":0.50,"c4":0.375,"c5":0.53,"c6":0.705,"c7":-0.201},
{"t":42.8,"c1":0.41,"c2":0.10,"c3":0.55,"c4":0.345,"c5":0.51,"c6":0.755,"c7":-0.195},
{"t":43.0,"c1":0.40,"c2":0.15,"c3":0.49,"c4":0.39,"c5":0.54,"c6":0.695,"c7":-0.197},
{"t":43.2,"c1":0.39,"c2":0.11,"c3":0.54,"c4":0.33,"c5":0.50,"c6":0.745,"c7":-0.199},
{"t":43.4,"c1":0.45,"c2":0.13,"c3":0.52,"c4":0.36,"c5":0.52,"c6":0.725,"c7":-0.194},
{"t":43.6,"c1":0.38,"c2":0.09,"c3":0.51,"c4":0.405,"c5":0.55,"c6":0.715,"c7":-0.201},
{"t":43.8,"c1":0.41,"c2":0.14,"c3":0.56,"c4":0.30,"c5":0.48,"c6":0.765,"c7":-0.196},
{"t":44.0,"c1":0.39,"c2":0.12,"c3":0.50,"c4":0.375,"c5":0.53,"c6":0.705,"c7":-0.197},
{"t":44.2,"c1":0.42,"c2":0.11,"c3":0.53,"c4":0.39,"c5":0.54,"c6":0.735,"c7":-0.203},
{"t":44.4,"c1":0.40,"c2":0.14,"c3":0.49,"c4":0.345,"c5":0.51,"c6":0.695,"c7":-0.195},
{"t":44.6,"c1":0.38,"c2":0.13,"c3":0.54,"c4":0.36,"c5":0.52,"c6":0.745,"c7":-0.196},
{"t":44.8,"c1":0.43,"c2":0.11,"c3":0.52,"c4":0.33,"c5":0.50,"c6":0.725,"c7":-0.199},
{"t":45.0,"c1":0.39,"c2":0.10,"c3":0.53,"c4":0.405,"c5":0.55,"c6":0.735,"c7":-0.193},
{"t":45.2,"c1":0.41,"c2":0.15,"c3":0.50,"c4":0.375,"c5":0.53,"c6":0.705,"c7":-0.201},
{"t":45.4,"c1":0.38,"c2":0.12,"c3":0.51,"c4":0.345,"c5":0.51,"c6":0.715,"c7":-0.197}
],
"ang":[
{"t":15.5,"v":0},{"t":15.8,"v":180},{"t":16.1,"v":0},{"t":16.4,"v":180},{"t":16.7,"v":0},{"t":17.0,"v":180},{"t":17.3,"v":0},{"t":17.6,"v":180},{"t":17.9,"v":0},{"t":18.2,"v":180},
{"t":18.5,"v":0},{"t":18.8,"v":180},{"t":19.1,"v":0},{"t":19.4,"v":180},{"t":19.7,"v":0},{"t":20.0,"v":180},{"t":20.3,"v":0},{"t":20.6,"v":180},{"t":20.9,"v":0},{"t":21.2,"v":180},
{"t":21.5,"v":0},{"t":21.8,"v":180},{"t":22.1,"v":0},{"t":22.4,"v":180},{"t":22.7,"v":0},{"t":23.0,"v":180},{"t":23.3,"v":0},{"t":23.6,"v":180},{"t":23.9,"v":0},{"t":24.2,"v":180},
{"t":24.5,"v":0},{"t":24.8,"v":180},{"t":25.1,"v":0},{"t":25.4,"v":180},{"t":25.7,"v":0},{"t":26.0,"v":180},{"t":26.3,"v":0},{"t":26.6,"v":180},{"t":26.9,"v":0},{"t":27.2,"v":180},
{"t":27.5,"v":0},{"t":27.8,"v":180},{"t":28.1,"v":0},{"t":28.4,"v":180},{"t":28.7,"v":0},{"t":29.0,"v":180},{"t":29.3,"v":0},{"t":29.6,"v":180},{"t":29.9,"v":0},{"t":30.2,"v":180},
{"t":30.5,"v":0},{"t":30.8,"v":180},{"t":31.1,"v":0},{"t":31.4,"v":180},{"t":31.7,"v":0},{"t":32.0,"v":180},{"t":32.3,"v":0},{"t":32.6,"v":180},{"t":32.9,"v":0},{"t":33.2,"v":180},
{"t":33.5,"v":0},{"t":33.8,"v":180},{"t":34.1,"v":0},{"t":34.4,"v":180},{"t":34.7,"v":0},{"t":35.0,"v":180},{"t":35.3,"v":0},{"t":35.6,"v":180},{"t":35.9,"v":0},{"t":36.2,"v":180},
{"t":36.5,"v":0},{"t":36.8,"v":180},{"t":37.1,"v":0},{"t":37.4,"v":180},{"t":37.7,"v":0},{"t":38.0,"v":180},{"t":38.3,"v":0},{"t":38.6,"v":180},{"t":38.9,"v":0},{"t":39.2,"v":180},
{"t":39.5,"v":0},{"t":39.8,"v":180},{"t":40.1,"v":0},{"t":40.4,"v":180},{"t":40.7,"v":0},{"t":41.0,"v":180},{"t":41.3,"v":0},{"t":41.6,"v":180},{"t":41.9,"v":0},{"t":42.2,"v":180},
{"t":42.5,"v":0},{"t":42.8,"v":180},{"t":43.1,"v":0},{"t":43.4,"v":180},{"t":43.7,"v":0},{"t":44.0,"v":180},{"t":44.3,"v":0},{"t":44.6,"v":180},{"t":44.9,"v":0},{"t":45.2,"v":180}
],
"c8":[
{"t":15.6,"v":0.82},{"t":15.95,"v":0.55},{"t":16.3,"v":0.9},{"t":16.65,"v":0.62},{"t":17.0,"v":0.78},{"t":17.35,"v":0.45},{"t":17.7,"v":0.88},{"t":18.05,"v":0.7},{"t":18.4,"v":0.6},{"t":18.75,"v":0.92},
{"t":19.1,"v":0.5},{"t":19.45,"v":0.75},{"t":19.8,"v":0.85},{"t":20.15,"v":0.58},{"t":20.5,"v":0.68},{"t":20.85,"v":0.93},{"t":21.2,"v":0.48},{"t":21.55,"v":0.8},{"t":21.9,"v":0.65},{"t":22.25,"v":0.72},
{"t":22.6,"v":0.9},{"t":22.95,"v":0.55},{"t":23.3,"v":0.77},{"t":23.65,"v":0.62},{"t":24.0,"v":0.87},{"t":24.35,"v":0.5},{"t":24.7,"v":0.7},{"t":25.05,"v":0.83},{"t":25.4,"v":0.6},{"t":25.75,"v":0.95},
{"t":26.1,"v":0.66},{"t":26.45,"v":0.74},{"t":26.8,"v":0.52},{"t":27.15,"v":0.88},{"t":27.5,"v":0.7},{"t":27.85,"v":0.6},{"t":28.2,"v":0.9},{"t":28.55,"v":0.45},{"t":28.9,"v":0.8},{"t":29.25,"v":0.68},
{"t":29.6,"v":0.76},{"t":29.95,"v":0.58},{"t":30.3,"v":0.92},{"t":30.65,"v":0.64},{"t":31.0,"v":0.72},{"t":31.35,"v":0.85},{"t":31.7,"v":0.5},{"t":32.05,"v":0.78},{"t":32.4,"v":0.66},{"t":32.75,"v":0.9},
{"t":33.1,"v":0.6},{"t":33.45,"v":0.82},{"t":33.8,"v":0.7},{"t":34.15,"v":0.55},{"t":34.5,"v":0.88},{"t":34.85,"v":0.65},{"t":35.2,"v":0.75},{"t":35.55,"v":0.93},{"t":35.9,"v":0.58},{"t":36.25,"v":0.7},
{"t":36.6,"v":0.84},{"t":36.95,"v":0.5},{"t":37.3,"v":0.78},{"t":37.65,"v":0.66},{"t":38.0,"v":0.9},{"t":38.35,"v":0.62},{"t":38.7,"v":0.72},{"t":39.05,"v":0.86},{"t":39.4,"v":0.55},{"t":39.75,"v":0.8},
{"t":40.1,"v":0.68},{"t":40.45,"v":0.92},{"t":40.8,"v":0.6},{"t":41.15,"v":0.75},{"t":41.5,"v":0.5},{"t":41.85,"v":0.85},{"t":42.2,"v":0.7},{"t":42.55,"v":0.63},{"t":42.9,"v":0.88},{"t":43.25,"v":0.58},
{"t":43.6,"v":0.8},{"t":43.95,"v":0.66},{"t":44.3,"v":0.9},{"t":44.65,"v":0.55},{"t":45.0,"v":0.75},{"t":45.35,"v":0.7}
]
},
"hconcat":[
{"width":41,"height":697,"data":{"name":"ang"},"resolve":{"scale":{"x":"independent","y":"independent"}},
"layer":[
{"mark":{"type":"line","color":"#ff0000","strokeWidth":1,"clip":true},
"encoding":{
"x":{"field":"v","type":"quantitative","scale":{"domain":[0,180],"reverse":true,"nice":false,"zero":false},
"axis":{"orient":"bottom","values":[0,22.5,45,67.5,90,112.5,135,157.5,180],"tickSize":-3,"labelExpr":"datum.value == 0 || datum.value == 180 ? format(datum.value, '.1f') : ''","labelAngle":270,"labelAlign":"right","labelBaseline":{"condition":{"test":"datum.value == 180","value":"top"},"value":"bottom"},"labelPadding":18,"labelFlush":false,"labelOverlap":false,"title":"ANGLE","titleAngle":180,"titleY":6,"titleBaseline":"middle","titleAlign":"center","titleFontSize":10}},
"y":{"field":"t","type":"quantitative","scale":{"domain":[15,45],"nice":false,"zero":false},
"axis":{"orient":"left","tickCount":30,"labels":false,"tickSize":{"condition":{"test":"datum.value % 10 == 5","value":-9},"value":-4},"title":"22.5 (deg)/div","titleAnchor":"start","titlePadding":7}},
"order":{"field":"t","type":"quantitative"}}},
{"mark":{"type":"line","opacity":0},
"encoding":{
"x":{"field":"v","type":"quantitative","scale":{"domain":[0,180],"reverse":true,"nice":false,"zero":false},"axis":{"orient":"top","values":[0,22.5,45,67.5,90,112.5,135,157.5,180],"tickSize":-3,"labels":false,"title":null}},
"y":{"field":"t","type":"quantitative","scale":{"domain":[15,45],"nice":false,"zero":false},"axis":{"orient":"right","tickCount":30,"labels":false,"tickSize":{"condition":{"test":"datum.value % 10 == 5","value":-9},"value":-4},"title":null}}}},
{"mark":{"type":"line","opacity":0},
"encoding":{
"x":{"field":"v","type":"quantitative","scale":{"domain":[0,180],"reverse":true,"nice":false,"zero":false},"axis":null},
"y":{"field":"t","type":"quantitative","scale":{"domain":[15,45],"nice":false,"zero":false},"axis":{"orient":"left","ticks":false,"labels":false,"title":"2025 07/22 00:15:28UT - 2025 07/22 00:45:27UT","titleAnchor":"end","titlePadding":5,"titleFontSize":13}}}}
]},
{"width":41,"height":697,"data":{"name":"ch"},"resolve":{"scale":{"x":"independent","y":"independent"}},
"layer":[
{"mark":{"type":"line","color":"#ff0000","strokeWidth":1,"clip":true},
"encoding":{
"x":{"field":"c1","type":"quantitative","scale":{"domain":[0.3,0.5],"reverse":true,"nice":false,"zero":false},
"axis":{"orient":"bottom","values":[0.3,0.325,0.35,0.375,0.4,0.425,0.45,0.475,0.5],"tickSize":-3,"labelExpr":"datum.value == 0.3 || datum.value == 0.5 ? format(datum.value, '.1f') : ''","labelAngle":270,"labelAlign":"right","labelBaseline":{"condition":{"test":"datum.value == 0.5","value":"top"},"value":"bottom"},"labelPadding":18,"labelFlush":false,"labelOverlap":false,"title":"CH1(V)","titleAngle":180,"titleY":6,"titleBaseline":"middle","titleAlign":"center","titleFontSize":10}},
"y":{"field":"t","type":"quantitative","scale":{"domain":[15,45],"nice":false,"zero":false},
"axis":{"orient":"left","tickCount":30,"labels":false,"tickSize":{"condition":{"test":"datum.value % 10 == 5","value":-9},"value":-4},"title":"0.03 (V)/div","titleAnchor":"start","titlePadding":2}},
"order":{"field":"t","type":"quantitative"}}},
{"mark":{"type":"line","opacity":0},
"encoding":{
"x":{"field":"c1","type":"quantitative","scale":{"domain":[0.3,0.5],"reverse":true,"nice":false,"zero":false},"axis":{"orient":"top","values":[0.3,0.325,0.35,0.375,0.4,0.425,0.45,0.475,0.5],"tickSize":-3,"labels":false,"title":null}},
"y":{"field":"t","type":"quantitative","scale":{"domain":[15,45],"nice":false,"zero":false},"axis":{"orient":"right","tickCount":30,"labels":false,"tickSize":{"condition":{"test":"datum.value % 10 == 5","value":-9},"value":-4},"title":null}}}}
]},
{"width":41,"height":697,"data":{"name":"ch"},"resolve":{"scale":{"x":"independent","y":"independent"}},
"layer":[
{"mark":{"type":"line","color":"#ff0000","strokeWidth":1,"clip":true},
"encoding":{
"x":{"field":"c2","type":"quantitative","scale":{"domain":[0.02,0.2],"reverse":true,"nice":false,"zero":false},
"axis":{"orient":"bottom","values":[0.02,0.0425,0.065,0.0875,0.11,0.1325,0.155,0.1775,0.2],"tickSize":-3,"labelExpr":"datum.value == 0.02 || datum.value == 0.2 ? format(datum.value, '.1f') : ''","labelAngle":270,"labelAlign":"right","labelBaseline":{"condition":{"test":"datum.value == 0.2","value":"top"},"value":"bottom"},"labelPadding":18,"labelFlush":false,"labelOverlap":false,"title":"CH2(V)","titleAngle":180,"titleY":6,"titleBaseline":"middle","titleAlign":"center","titleFontSize":10}},
"y":{"field":"t","type":"quantitative","scale":{"domain":[15,45],"nice":false,"zero":false},
"axis":{"orient":"left","tickCount":30,"labels":false,"tickSize":{"condition":{"test":"datum.value % 10 == 5","value":-9},"value":-4},"title":"0.02 (V)/div","titleAnchor":"start","titlePadding":2}},
"order":{"field":"t","type":"quantitative"}}},
{"mark":{"type":"line","opacity":0},
"encoding":{
"x":{"field":"c2","type":"quantitative","scale":{"domain":[0.02,0.2],"reverse":true,"nice":false,"zero":false},"axis":{"orient":"top","values":[0.02,0.0425,0.065,0.0875,0.11,0.1325,0.155,0.1775,0.2],"tickSize":-3,"labels":false,"title":null}},
"y":{"field":"t","type":"quantitative","scale":{"domain":[15,45],"nice":false,"zero":false},"axis":{"orient":"right","tickCount":30,"labels":false,"tickSize":{"condition":{"test":"datum.value % 10 == 5","value":-9},"value":-4},"title":null}}}}
]},
{"width":41,"height":697,"data":{"name":"ch"},"resolve":{"scale":{"x":"independent","y":"independent"}},
"layer":[
{"mark":{"type":"line","color":"#ff0000","strokeWidth":1,"clip":true},
"encoding":{
"x":{"field":"c3","type":"quantitative","scale":{"domain":[0.4,0.6],"reverse":true,"nice":false,"zero":false},
"axis":{"orient":"bottom","values":[0.4,0.425,0.45,0.475,0.5,0.525,0.55,0.575,0.6],"tickSize":-3,"labelExpr":"datum.value == 0.4 || datum.value == 0.6 ? format(datum.value, '.1f') : ''","labelAngle":270,"labelAlign":"right","labelBaseline":{"condition":{"test":"datum.value == 0.6","value":"top"},"value":"bottom"},"labelPadding":18,"labelFlush":false,"labelOverlap":false,"title":"CH3(V)","titleAngle":180,"titleY":6,"titleBaseline":"middle","titleAlign":"center","titleFontSize":10}},
"y":{"field":"t","type":"quantitative","scale":{"domain":[15,45],"nice":false,"zero":false},
"axis":{"orient":"left","tickCount":30,"labels":false,"tickSize":{"condition":{"test":"datum.value % 10 == 5","value":-9},"value":-4},"title":"0.03 (V)/div","titleAnchor":"start","titlePadding":2}},
"order":{"field":"t","type":"quantitative"}}},
{"mark":{"type":"line","opacity":0},
"encoding":{
"x":{"field":"c3","type":"quantitative","scale":{"domain":[0.4,0.6],"reverse":true,"nice":false,"zero":false},"axis":{"orient":"top","values":[0.4,0.425,0.45,0.475,0.5,0.525,0.55,0.575,0.6],"tickSize":-3,"labels":false,"title":null}},
"y":{"field":"t","type":"quantitative","scale":{"domain":[15,45],"nice":false,"zero":false},"axis":{"orient":"right","tickCount":30,"labels":false,"tickSize":{"condition":{"test":"datum.value % 10 == 5","value":-9},"value":-4},"title":null}}}}
]},
{"width":41,"height":697,"data":{"name":"ch"},"resolve":{"scale":{"x":"independent","y":"independent"}},
"layer":[
{"mark":{"type":"line","color":"#ff0000","strokeWidth":1,"clip":true},
"encoding":{
"x":{"field":"c4","type":"quantitative","scale":{"domain":[0.2,0.5],"reverse":true,"nice":false,"zero":false},
"axis":{"orient":"bottom","values":[0.2,0.2375,0.275,0.3125,0.35,0.3875,0.425,0.4625,0.5],"tickSize":-3,"labelExpr":"datum.value == 0.2 || datum.value == 0.5 ? format(datum.value, '.1f') : ''","labelAngle":270,"labelAlign":"right","labelBaseline":{"condition":{"test":"datum.value == 0.5","value":"top"},"value":"bottom"},"labelPadding":18,"labelFlush":false,"labelOverlap":false,"title":"CH4(V)","titleAngle":180,"titleY":6,"titleBaseline":"middle","titleAlign":"center","titleFontSize":10}},
"y":{"field":"t","type":"quantitative","scale":{"domain":[15,45],"nice":false,"zero":false},
"axis":{"orient":"left","tickCount":30,"labels":false,"tickSize":{"condition":{"test":"datum.value % 10 == 5","value":-9},"value":-4},"title":"0.04 (V)/div","titleAnchor":"start","titlePadding":2}},
"order":{"field":"t","type":"quantitative"}}},
{"mark":{"type":"line","opacity":0},
"encoding":{
"x":{"field":"c4","type":"quantitative","scale":{"domain":[0.2,0.5],"reverse":true,"nice":false,"zero":false},"axis":{"orient":"top","values":[0.2,0.2375,0.275,0.3125,0.35,0.3875,0.425,0.4625,0.5],"tickSize":-3,"labels":false,"title":null}},
"y":{"field":"t","type":"quantitative","scale":{"domain":[15,45],"nice":false,"zero":false},"axis":{"orient":"right","tickCount":30,"labels":false,"tickSize":{"condition":{"test":"datum.value % 10 == 5","value":-9},"value":-4},"title":null}}}}
]},
{"width":41,"height":697,"data":{"name":"ch"},"resolve":{"scale":{"x":"independent","y":"independent"}},
"layer":[
{"mark":{"type":"line","color":"#ff0000","strokeWidth":1,"clip":true},
"encoding":{
"x":{"field":"c5","type":"quantitative","scale":{"domain":[0.4,0.6],"reverse":true,"nice":false,"zero":false},
"axis":{"orient":"bottom","values":[0.4,0.425,0.45,0.475,0.5,0.525,0.55,0.575,0.6],"tickSize":-3,"labelExpr":"datum.value == 0.4 || datum.value == 0.6 ? format(datum.value, '.1f') : ''","labelAngle":270,"labelAlign":"right","labelBaseline":{"condition":{"test":"datum.value == 0.6","value":"top"},"value":"bottom"},"labelPadding":18,"labelFlush":false,"labelOverlap":false,"title":"CH5(V)","titleAngle":180,"titleY":6,"titleBaseline":"middle","titleAlign":"center","titleFontSize":10}},
"y":{"field":"t","type":"quantitative","scale":{"domain":[15,45],"nice":false,"zero":false},
"axis":{"orient":"left","tickCount":30,"labels":false,"tickSize":{"condition":{"test":"datum.value % 10 == 5","value":-9},"value":-4},"title":"0.03 (V)/div","titleAnchor":"start","titlePadding":2}},
"order":{"field":"t","type":"quantitative"}}},
{"mark":{"type":"line","opacity":0},
"encoding":{
"x":{"field":"c5","type":"quantitative","scale":{"domain":[0.4,0.6],"reverse":true,"nice":false,"zero":false},"axis":{"orient":"top","values":[0.4,0.425,0.45,0.475,0.5,0.525,0.55,0.575,0.6],"tickSize":-3,"labels":false,"title":null}},
"y":{"field":"t","type":"quantitative","scale":{"domain":[15,45],"nice":false,"zero":false},"axis":{"orient":"right","tickCount":30,"labels":false,"tickSize":{"condition":{"test":"datum.value % 10 == 5","value":-9},"value":-4},"title":null}}}}
]},
{"width":41,"height":697,"data":{"name":"ch"},"resolve":{"scale":{"x":"independent","y":"independent"}},
"layer":[
{"mark":{"type":"line","color":"#ff0000","strokeWidth":1,"clip":true},
"encoding":{
"x":{"field":"c6","type":"quantitative","scale":{"domain":[0.62,0.8],"reverse":true,"nice":false,"zero":false},
"axis":{"orient":"bottom","values":[0.62,0.6425,0.665,0.6875,0.71,0.7325,0.755,0.7775,0.8],"tickSize":-3,"labelExpr":"datum.value == 0.62 || datum.value == 0.8 ? format(datum.value, '.1f') : ''","labelAngle":270,"labelAlign":"right","labelBaseline":{"condition":{"test":"datum.value == 0.8","value":"top"},"value":"bottom"},"labelPadding":18,"labelFlush":false,"labelOverlap":false,"title":"CH6(V)","titleAngle":180,"titleY":6,"titleBaseline":"middle","titleAlign":"center","titleFontSize":10}},
"y":{"field":"t","type":"quantitative","scale":{"domain":[15,45],"nice":false,"zero":false},
"axis":{"orient":"left","tickCount":30,"labels":false,"tickSize":{"condition":{"test":"datum.value % 10 == 5","value":-9},"value":-4},"title":"0.02 (V)/div","titleAnchor":"start","titlePadding":2}},
"order":{"field":"t","type":"quantitative"}}},
{"mark":{"type":"line","opacity":0},
"encoding":{
"x":{"field":"c6","type":"quantitative","scale":{"domain":[0.62,0.8],"reverse":true,"nice":false,"zero":false},"axis":{"orient":"top","values":[0.62,0.6425,0.665,0.6875,0.71,0.7325,0.755,0.7775,0.8],"tickSize":-3,"labels":false,"title":null}},
"y":{"field":"t","type":"quantitative","scale":{"domain":[15,45],"nice":false,"zero":false},"axis":{"orient":"right","tickCount":30,"labels":false,"tickSize":{"condition":{"test":"datum.value % 10 == 5","value":-9},"value":-4},"title":null}}}}
]},
{"width":41,"height":697,"data":{"name":"ch"},"resolve":{"scale":{"x":"independent","y":"independent"}},
"layer":[
{"mark":{"type":"line","color":"#ff0000","strokeWidth":1,"clip":true},
"encoding":{
"x":{"field":"c7","type":"quantitative","scale":{"domain":[-0.215,-0.185],"reverse":true,"nice":false,"zero":false},
"axis":{"orient":"bottom","values":[-0.215,-0.21125,-0.2075,-0.20375,-0.2,-0.19625,-0.1925,-0.18875,-0.185],"tickSize":-3,"labelExpr":"datum.value == -0.215 || datum.value == -0.185 ? replace(format(datum.value, '.1f'), '\u2212', '-') : ''","labelAngle":270,"labelAlign":"right","labelBaseline":{"condition":{"test":"datum.value == -0.185","value":"top"},"value":"bottom"},"labelPadding":18,"labelFlush":false,"labelOverlap":false,"title":"CH7(V)","titleAngle":180,"titleY":6,"titleBaseline":"middle","titleAlign":"center","titleFontSize":10}},
"y":{"field":"t","type":"quantitative","scale":{"domain":[15,45],"nice":false,"zero":false},
"axis":{"orient":"left","tickCount":30,"labels":false,"tickSize":{"condition":{"test":"datum.value % 10 == 5","value":-9},"value":-4},"title":"0.00 (V)/div","titleAnchor":"start","titlePadding":2}},
"order":{"field":"t","type":"quantitative"}}},
{"mark":{"type":"line","opacity":0},
"encoding":{
"x":{"field":"c7","type":"quantitative","scale":{"domain":[-0.215,-0.185],"reverse":true,"nice":false,"zero":false},"axis":{"orient":"top","values":[-0.215,-0.21125,-0.2075,-0.20375,-0.2,-0.19625,-0.1925,-0.18875,-0.185],"tickSize":-3,"labels":false,"title":null}},
"y":{"field":"t","type":"quantitative","scale":{"domain":[15,45],"nice":false,"zero":false},"axis":{"orient":"right","tickCount":30,"labels":false,"tickSize":{"condition":{"test":"datum.value % 10 == 5","value":-9},"value":-4},"title":null}}}}
]},
{"width":41,"height":697,"data":{"name":"c8"},"resolve":{"scale":{"x":"independent","y":"independent"}},
"layer":[
{"mark":{"type":"rule","color":"#ff0000","strokeWidth":1,"clip":true},
"encoding":{
"x":{"field":"v","type":"quantitative","scale":{"domain":[-0.06,1],"reverse":true,"nice":false,"zero":false},
"axis":{"orient":"bottom","values":[-0.06,0.0725,0.205,0.3375,0.47,0.6025,0.735,0.8675,1],"tickSize":-3,"labelExpr":"datum.value == -0.06 || datum.value == 1 ? replace(format(datum.value, '.1f'), '\u2212', '-') : ''","labelAngle":270,"labelAlign":"right","labelBaseline":{"condition":{"test":"datum.value == 1","value":"top"},"value":"bottom"},"labelPadding":18,"labelFlush":false,"labelOverlap":false,"title":"CH8(V)","titleAngle":180,"titleY":6,"titleBaseline":"middle","titleAlign":"center","titleFontSize":10}},
"x2":{"datum":-0.05},
"y":{"field":"t","type":"quantitative","scale":{"domain":[15,45],"nice":false,"zero":false},
"axis":{"orient":"left","tickCount":30,"labels":false,"tickSize":{"condition":{"test":"datum.value % 10 == 5","value":-9},"value":-4},"title":"0.13 (V)/div","titleAnchor":"start","titlePadding":2}}}},
{"mark":{"type":"line","opacity":0},
"encoding":{
"x":{"field":"v","type":"quantitative","scale":{"domain":[-0.06,1],"reverse":true,"nice":false,"zero":false},"axis":{"orient":"top","values":[-0.06,0.0725,0.205,0.3375,0.47,0.6025,0.735,0.8675,1],"tickSize":-3,"labels":false,"title":null}},
"y":{"field":"t","type":"quantitative","scale":{"domain":[15,45],"nice":false,"zero":false},"axis":{"orient":"right","tickCount":30,"tickSize":{"condition":{"test":"datum.value % 10 == 5","value":-9},"value":-4},"labelExpr":"datum.value % 10 == 5 ? '00' + datum.value : ''","labelAngle":270,"labelAlign":"center","labelBaseline":"top","labelPadding":13,"labelFlush":false,"labelOverlap":false,"labelBound":false,"labelFontSize":10,"title":"TIME(UT)","titleAngle":270,"titleBaseline":"top","titleFontSize":15,"titlePadding":8}}}}
]}
]
}
